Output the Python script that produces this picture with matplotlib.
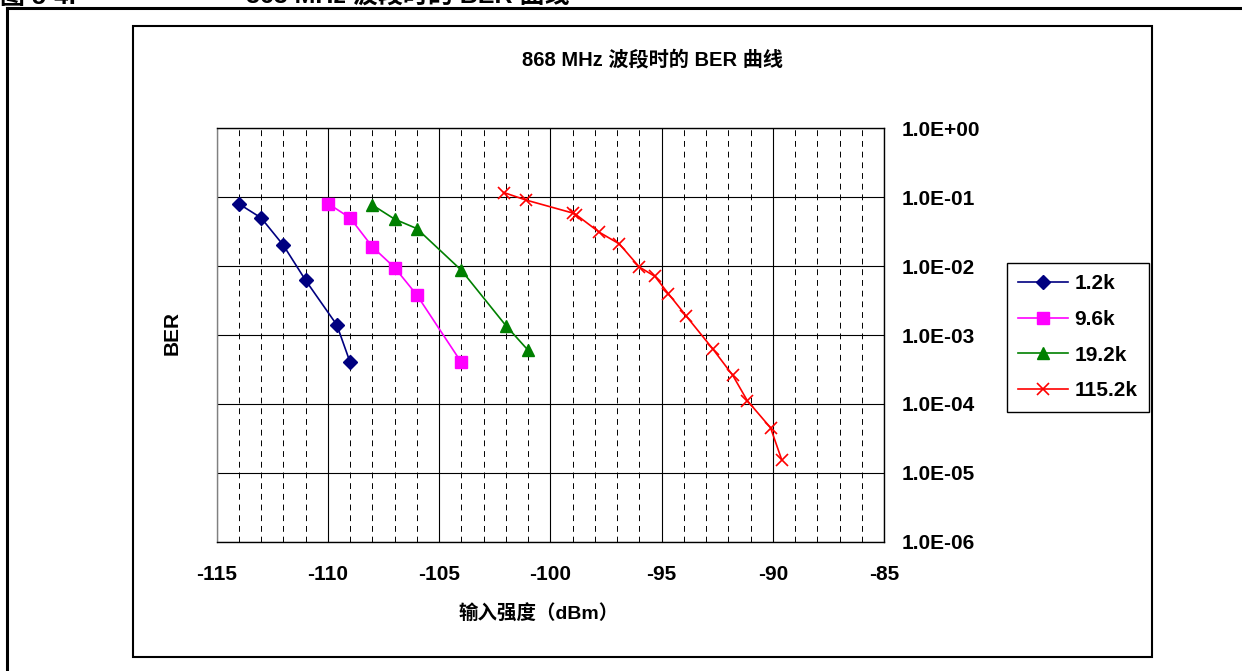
import matplotlib.pyplot as plt
import matplotlib.ticker as ticker
from matplotlib.patches import Rectangle
from matplotlib.lines import Line2D

# ── 1. DATA ───────────────────────────────────────────────────────────────────
x_12k = [-114, -113, -112, -111, -109.6, -109]
ber_12k = [0.08, 0.05, 0.02, 0.0062, 0.0014, 0.0004]

x_96k = [-110, -109, -108, -107, -106, -104]
ber_96k = [0.081, 0.05, 0.019, 0.0095, 0.0038, 0.0004]

x_192k = [-108, -107, -106, -104, -102, -101]
ber_192k = [0.077, 0.048, 0.035, 0.0087, 0.00137, 0.0006]

x_1152k = [-102.1, -101.1, -99.0, -98.85, -97.8, -96.9, -96.0, -95.3,
           -94.7, -93.9, -92.7, -91.8, -91.15, -90.1, -89.6]
ber_1152k = [0.117, 0.091, 0.059, 0.056, 0.031, 0.021, 0.0097, 0.0071,
             0.004, 0.0019, 0.00063, 0.00026, 0.000112, 4.5e-5, 1.55e-5]

series_labels = ['1.2k', '9.6k', '19.2k', '115.2k']

xticks = [-115, -110, -105, -100, -95, -90, -85]
yticks = [1e0, 1e-1, 1e-2, 1e-3, 1e-4, 1e-5, 1e-6]
ytick_labels = ['1.0E+00', '1.0E-01', '1.0E-02', '1.0E-03',
                '1.0E-04', '1.0E-05', '1.0E-06']

# ── 2. STYLE ──────────────────────────────────────────────────────────────────
plt.rcParams['font.family'] = ['Liberation Sans', 'Noto Sans CJK SC']
plt.rcParams['font.weight'] = 'bold'
plt.rcParams['axes.unicode_minus'] = False

W, H = 1242, 671
fig = plt.figure(figsize=(W / 100, H / 100), dpi=100)


def fx(px):
    return px / W


def fy(py):
    return 1 - py / H


# caption (cut off at the top of the page, as in the source) and page borders
fig.text(fx(0), fy(4), '图 5-4:', fontsize=18, fontweight='bold', va='baseline')
fig.text(fx(246), fy(4), '868 MHz 波段时的 BER 曲线', fontsize=18,
         fontweight='bold', va='baseline')
fig.add_artist(Line2D([fx(7), 1], [fy(8), fy(8)], color='black', lw=2.2))
fig.add_artist(Line2D([fx(7), fx(7)], [fy(8), 0], color='black', lw=2.2))

# chart frame
fig.add_artist(Rectangle((fx(133), fy(657)), fx(1152) - fx(133), fy(26) - fy(657),
                         transform=fig.transFigure, fill=False,
                         edgecolor='black', lw=1.5))

# ── 3. PLOT ───────────────────────────────────────────────────────────────────
left, right, top, bottom = 216.7, 884, 128.3, 541.7
ax = fig.add_axes([fx(left), fy(bottom), fx(right) - fx(left), fy(top) - fy(bottom)])

ax.plot(x_12k, ber_12k, color='#000080', marker='D', ms=7, lw=1.2, label=series_labels[0])
ax.plot(x_96k, ber_96k, color='#FF00FF', marker='s', ms=9, lw=1.2, label=series_labels[1])
ax.plot(x_192k, ber_192k, color='#008000', marker='^', ms=9, lw=1.2, label=series_labels[2])
ax.plot(x_1152k, ber_1152k, color='#FF0000', marker='x', ms=8, mew=1.2, lw=1.2,
        label=series_labels[3])

ax.set_yscale('log')
ax.set_xlim(-115, -85)
ax.set_ylim(1e-6, 1e0)

ax.set_xticks(xticks)
ax.set_xticks(range(-115, -84), minor=True)
ax.set_yticks(yticks)
ax.set_yticklabels(ytick_labels)
ax.yaxis.set_minor_locator(ticker.NullLocator())
ax.yaxis.tick_right()

ax.tick_params(axis='both', which='both', length=0)
ax.tick_params(axis='x', labelsize=15, pad=17)
ax.tick_params(axis='y', labelsize=15, pad=13)
for lab in ax.get_xticklabels() + ax.get_yticklabels():
    lab.set_fontweight('bold')

ax.grid(which='major', axis='both', color='black', lw=0.8, ls='-')
ax.grid(which='minor', axis='x', color='black', lw=0.7, ls=(0, (6, 5)))
ax.set_axisbelow(True)
for sp in ax.spines.values():
    sp.set_color('black')
    sp.set_linewidth(1.0)
ax.spines['left'].set_color('#808080')

# titles
fig.text(fx(653), fy(60), '868 MHz 波段时的 BER 曲线', fontsize=14.5,
         fontweight='bold', ha='center', va='center')
fig.text(fx(172), fy(333), 'BER', fontsize=15, fontweight='bold',
         rotation=90, ha='center', va='center')
fig.text(fx(539), fy(614), '输入强度（dBm）', fontsize=14,
         fontweight='bold', ha='center', va='center')

leg = ax.legend(loc='upper left', bbox_to_anchor=(fx(1007), fy(263)),
                bbox_transform=fig.transFigure, borderaxespad=0,
                fancybox=False, framealpha=1, edgecolor='black',
                prop={'size': 15, 'weight': 'bold'},
                handlelength=2.4, handletextpad=0.3, labelspacing=0.8,
                borderpad=0.55)
leg.get_frame().set_linewidth(1.0)

plt.savefig('out.png', dpi=100)
